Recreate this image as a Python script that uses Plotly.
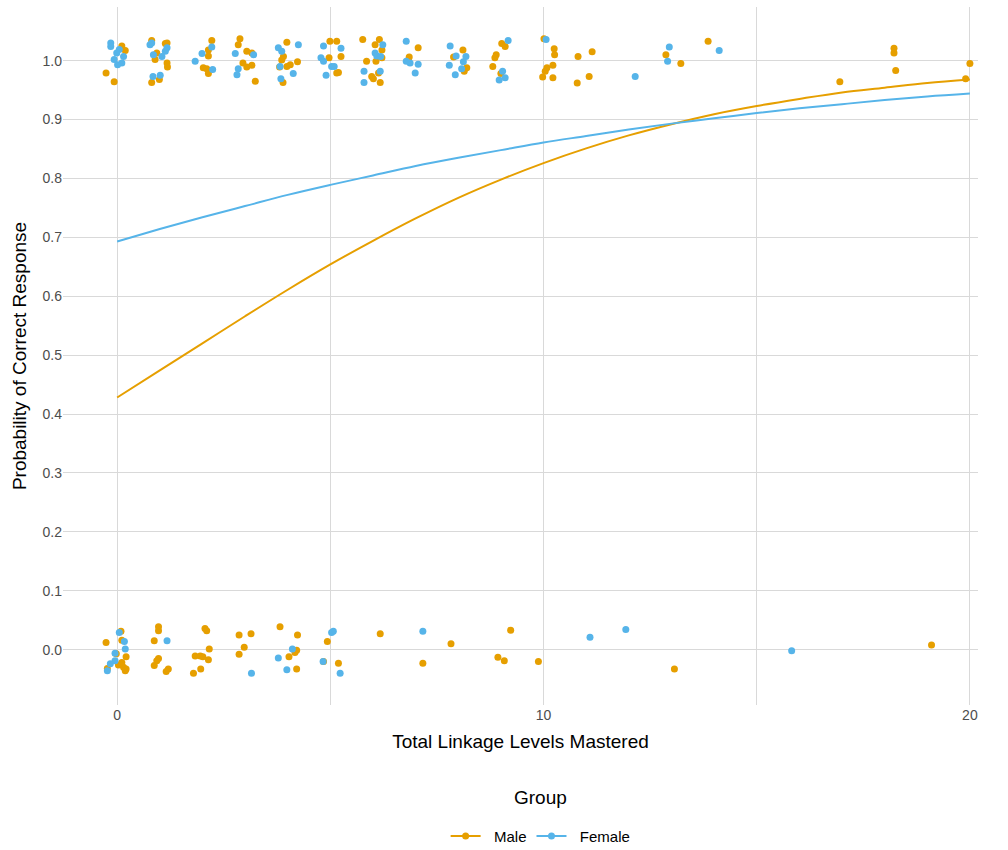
import plotly.graph_objs as go

# Jittered responses (x = linkage levels, y = response)
male_x = [0.11, 0.19, -0.26, -0.07, 0.81, 1.13, 1.17, 0.93, 0.89, 1.17, 1.18, 0.81, 0.99,
          2.22, 2.14, 2.14, 2.02, 2.10, 2.14, 2.88, 2.84, 3.04, 3.16, 2.95, 3.04, 3.16, 3.24,
          3.98, 3.90, 3.86, 4.06, 3.98, 4.23, 3.81, 3.89, 4.99, 5.15, 5.25, 4.97, 5.19, 5.15,
          5.76, 6.15, 6.05, 6.21, 6.21, 5.85, 6.07, 5.97, 6.01, 6.13, 6.17, 7.06, 6.85, 6.83,
          8.11, 7.89, 8.20, 8.14, 9.02, 9.10, 8.89, 8.86, 8.81, 9.00, 10.01, 10.25, 10.26,
          10.22, 10.08, 10.04, 9.98, 10.22, 10.81, 11.14, 10.79, 11.07, 12.87, 13.22, 13.86,
          18.22, 18.22, 18.26, 16.95, 20.00, 19.90,
          -0.26, 0.09, 0.11, 0.21, 0.11, 0.03, 0.15, 0.21, -0.23, 0.19, -0.02, 0.97, 0.97,
          0.87, 0.97, 0.93, 0.87, 1.20, 1.15, 2.06, 2.10, 2.16, 1.83, 1.95, 2.01, 2.14, 1.96,
          1.79, 2.86, 3.14, 2.98, 2.86, 3.82, 4.23, 4.21, 4.17, 4.03, 4.21, 4.84, 4.93, 5.19,
          6.17, 7.17, 7.83, 8.93, 9.08, 9.23, 9.88, 13.07, 19.10]
male_y = [1.025, 1.017, 0.979, 0.964, 1.034, 1.029, 1.030, 1.013, 1.002, 0.996, 0.989, 0.963,
          0.968, 1.034, 1.018, 1.008, 0.988, 0.986, 0.978, 1.037, 1.027, 1.016, 1.013, 0.996,
          0.989, 0.992, 0.965, 1.031, 1.007, 1.001, 0.993, 0.990, 0.998, 0.989, 0.963, 1.033,
          1.033, 1.007, 1.005, 0.980, 0.979, 1.036, 1.036, 1.027, 1.018, 1.005, 0.999, 0.999,
          0.973, 0.969, 0.979, 0.963, 1.022, 1.006, 1.001, 1.018, 1.006, 0.988, 0.982, 1.029,
          1.024, 1.010, 1.005, 0.990, 0.978, 1.037, 1.020, 1.010, 0.992, 0.988, 0.982, 0.972,
          0.971, 1.007, 1.015, 0.962, 0.973, 1.010, 0.995, 1.033, 1.021, 1.013, 0.983, 0.964,
          0.995, 0.969,
          0.012, 0.031, 0.016, -0.012, -0.022, -0.026, -0.030, -0.033, -0.032, -0.036, -0.007,
          0.039, 0.032, 0.015, -0.015, -0.019, -0.027, -0.033, -0.037, 0.036, 0.032, 0.001,
          -0.011, -0.011, -0.012, -0.017, -0.033, -0.040, 0.025, 0.027, 0.004, -0.008, 0.039,
          0.025, -0.001, -0.005, -0.012, -0.033, -0.020, 0.014, -0.023, 0.027, -0.023, 0.010,
          -0.013, -0.019, 0.033, -0.020, -0.033, 0.008]

female_x = [-0.15, -0.15, 0.05, -0.01, 0.15, -0.07, 0.11, 0.01, 0.77, 0.81, 0.85, 1.05, 1.13,
            1.17, 0.84, 1.01, 1.83, 1.99, 2.22, 2.24, 2.77, 2.84, 2.81, 3.20, 3.78, 3.86, 4.25,
            3.82, 4.13, 3.84, 4.84, 5.25, 4.78, 4.84, 5.03, 5.09, 4.90, 6.23, 6.05, 6.09, 6.18,
            5.79, 6.17, 5.79, 6.78, 6.78, 6.87, 7.06, 6.99, 7.81, 7.95, 8.18, 8.12, 7.79, 8.08,
            7.93, 9.17, 9.04, 9.10, 8.96, 10.06, 12.15, 12.95, 12.91, 14.12,
            0.05, 0.17, 0.19, -0.05, -0.05, -0.16, -0.23, 1.17, 3.15, 4.11, 3.78, 3.98, 5.03,
            5.07, 4.83, 5.23, 7.17, 11.09, 11.93, 15.82]
female_y = [1.030, 1.024, 1.019, 1.013, 1.007, 1.002, 0.996, 0.993, 1.027, 1.030, 1.010, 1.007,
            1.016, 1.022, 0.973, 0.975, 0.999, 1.012, 1.023, 0.985, 1.012, 0.986, 0.976, 1.010,
            1.022, 1.016, 1.027, 0.990, 0.978, 0.969, 1.025, 1.021, 1.005, 0.999, 0.990, 0.990,
            0.975, 1.027, 1.013, 1.008, 1.007, 0.982, 0.982, 0.963, 1.033, 0.999, 0.996, 0.994,
            0.979, 1.025, 1.008, 1.007, 0.998, 0.992, 0.986, 0.976, 1.034, 0.982, 0.971, 0.967,
            1.036, 0.973, 1.023, 0.999, 1.017,
            0.029, 0.014, 0.001, -0.006, -0.019, -0.024, -0.036, 0.015, -0.040, 0.001, -0.014,
            -0.034, 0.029, 0.031, -0.020, -0.040, 0.031, 0.021, 0.034, -0.002]

# Fitted probability curves, read at each level
levels = list(range(0, 21))
male_fit = [0.428, 0.474, 0.520, 0.566, 0.611, 0.654, 0.694, 0.732, 0.767, 0.798, 0.826,
            0.851, 0.873, 0.892, 0.909, 0.923, 0.935, 0.946, 0.954, 0.962, 0.968]
female_fit = [0.693, 0.714, 0.734, 0.753, 0.772, 0.789, 0.805, 0.821, 0.835, 0.848, 0.861,
              0.872, 0.883, 0.893, 0.902, 0.911, 0.919, 0.926, 0.933, 0.939, 0.944]

x_ticks = [0, 5, 10, 15, 20]
x_tick_text = ['0', '', '10', '', '20']
y_ticks = [0.0, 0.1, 0.2, 0.3, 0.4, 0.5, 0.6, 0.7, 0.8, 0.9, 1.0]

orange = '#E69F00'
blue = '#56B4E9'
font = 'Liberation Sans, Arial, sans-serif'

data = []
for name, color, xs, ys, fit in [('Male', orange, male_x, male_y, male_fit),
                                  ('Female', blue, female_x, female_y, female_fit)]:
    data.append(go.Scatter(x=xs, y=ys, mode='markers', showlegend=False,
                           marker=dict(color=color, size=7, line=dict(width=0))))
    data.append(go.Scatter(x=levels, y=fit, mode='lines', showlegend=False,
                           line=dict(color=color, width=2, shape='spline')))
    # legend key only
    data.append(go.Scatter(x=[None], y=[None], mode='lines+markers', name='\u00a0\u00a0' + name,
                           line=dict(color=color, width=2), marker=dict(color=color, size=7)))

axis_common = dict(showgrid=True, gridcolor='#d9d9d9', gridwidth=1, zeroline=False,
                   showline=False, ticks='', automargin=False,
                   tickfont=dict(size=14, color='#4d4d4d'),
                   title_font=dict(size=19, color='black'))

layout = go.Layout(
    width=1008, height=850,
    paper_bgcolor='white', plot_bgcolor='white',
    font=dict(family=font),
    margin=dict(l=63, r=30, t=7, b=145, autoexpand=False),
    xaxis=dict(range=[-1.27, 20.19], tickvals=x_ticks, ticktext=x_tick_text,
               title=dict(text='Total Linkage Levels Mastered', standoff=12), **axis_common),
    yaxis=dict(range=[-0.094, 1.091], tickvals=y_ticks, tickformat='.1f',
               title=dict(text='Probability of Correct Response', standoff=10), **axis_common),
    legend=dict(orientation='h', x=0.522, xanchor='center', y=-0.188, yanchor='middle',
                font=dict(size=15, color='black')),
    annotations=[dict(text='Group', x=0.522, xref='paper', y=-0.133, yref='paper',
                      xanchor='center', yanchor='middle', showarrow=False,
                      font=dict(size=19, color='black'))],
)

fig = go.Figure(data=data, layout=layout)
# drop the browser's default page margin so the figure sits at the window corner
fig.write_html('out.html', config={'displayModeBar': False},
               post_script="document.body.style.margin = '0px';")
